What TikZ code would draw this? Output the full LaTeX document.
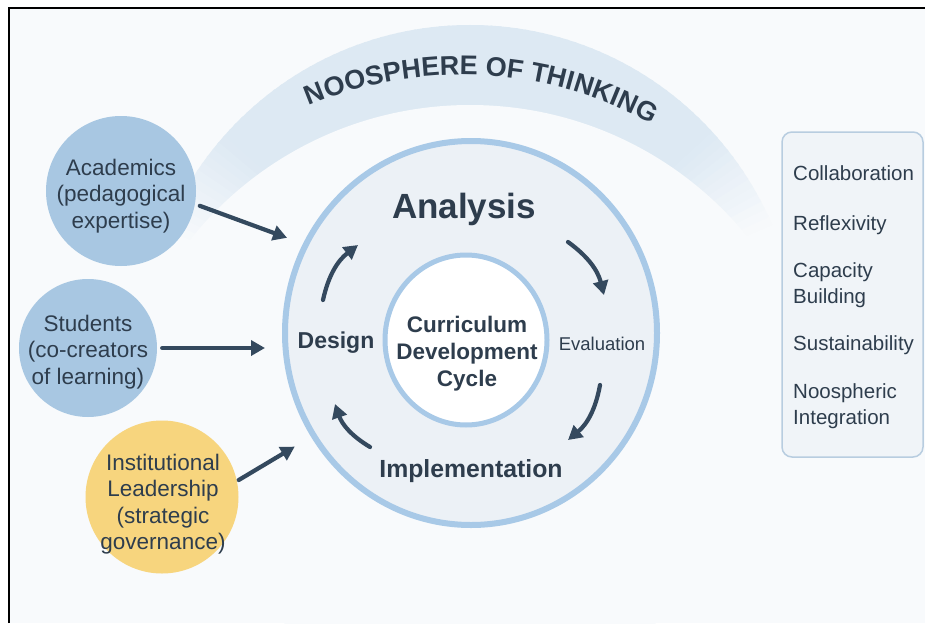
\documentclass[tikz,border=0pt]{standalone}
\usepackage{fontspec}
\setmainfont{Liberation Sans}
\usetikzlibrary{arrows.meta,decorations.text,shapes.geometric}

\definecolor{ink}{HTML}{2E3D4D}
\definecolor{arrowink}{HTML}{34495E}
\definecolor{ringblue}{HTML}{A8C9E7}
\definecolor{ringfill}{HTML}{ECF1F6}
\definecolor{stakeblue}{HTML}{A8C7E2}
\definecolor{stakegold}{HTML}{F7D57E}
\definecolor{bandblue}{HTML}{DDE9F3}
\definecolor{panelfill}{HTML}{F0F4F8}
\definecolor{panelline}{HTML}{B8CDE0}
\definecolor{canvas}{HTML}{F8FAFC}

\newcommand{\noosfont}{\fontsize{27}{27}\selectfont\bfseries}

\tikzset{
  ring/.style={ellipse, draw=ringblue, line width=6pt, inner sep=0pt},
  stake/.style={circle, inner sep=0pt},
  staketext/.style={align=center, text=ink, inner sep=0pt,
    font=\fontsize{22.5}{26.5}\selectfont},
  stage/.style={text=ink, inner sep=0pt, font=\fontsize{24.8}{28}\selectfont\bfseries},
  flow/.style={draw=arrowink, line width=4.2pt, line cap=round,
    -{Triangle[length=14pt,width=15pt]}},
  item/.style={anchor=west, align=left, text=ink, inner sep=0pt,
    font=\fontsize{20.5}{26}\selectfont},
}

\begin{document}
\begin{tikzpicture}[x=1pt,y=1pt]
\useasboundingbox (0,0) rectangle (925,-623);
\fill[white] (0,0) rectangle (925,-623);
\fill[canvas] (9,-8) rectangle (925,-623);

% noosphere band: crescent built from opaque wedges that fade into the canvas at both tips
\begin{scope}
  \clip (470,-353) circle[radius=328];
  \foreach \a in {14,15.5,...,166} {
    \pgfmathsetmacro\p{max(0,min(100,min((\a-22)*100/20,(158-\a)*100/20)))}
    \fill[bandblue!\p!canvas] (470,-353) -- +(\a:340) -- +(\a+1.9:340) -- cycle;
  }
  \fill[canvas] (470,-463) circle[radius=358];
\end{scope}
\draw[black, line width=1.2pt] (9,-623) -- (9,-8) -- (925,-8);

% curved title
\path[decorate, decoration={text along path, text align=center,
    text color=ink, text={|\noosfont|NOOSPHERE OF THINKING}}]
  (462,-470) ++(122:395) arc[start angle=122, end angle=52, radius=395];

% cycle rings
\node[ring, fill=ringfill, minimum width=372pt, minimum height=384pt] (cycle) at (471,-333) {};
\node[ring, line width=5pt, fill=white, minimum width=162pt, minimum height=170pt] (core) at (466,-340) {};
\node[text=ink, align=center, inner sep=0pt, font=\fontsize{22.5}{27}\selectfont\bfseries]
  (coretext) at (467,-354) {Curriculum\\Development\\Cycle};

% stages
\node[stage, font=\fontsize{35}{38}\selectfont\bfseries] (analysis) at (464,-209) {Analysis};
\node[stage, font=\fontsize{23}{26}\selectfont\bfseries] (design) at (336,-343) {Design};
\node[stage, font=\fontsize{18.5}{22}\selectfont] (evaluation) at (602,-344) {Evaluation};
\node[stage] (implementation) at (471,-471) {Implementation};

% cycle arrows
\coordinate (d1) at (323,-300); \coordinate (d2) at (358,-245);
\coordinate (e1) at (568,-242); \coordinate (e2) at (604,-295);
\coordinate (i1) at (600,-385); \coordinate (i2) at (568,-440);
\coordinate (m1) at (370,-447); \coordinate (m2) at (335,-404);
\draw[flow] (d1) to[bend left=20] (d2);
\draw[flow] (e1) to[bend left=20] (e2);
\draw[flow] (i1) to[bend left=20] (i2);
\draw[flow] (m1) to[bend left=20] (m2);

% stakeholders
\node[stake, fill=stakeblue, minimum size=150pt] (acad) at (121,-191) {};
\node[staketext] (acadtext) at (121,-196) {Academics\\(pedagogical\\expertise)};
\node[stake, fill=stakeblue, minimum size=138pt] (stud) at (88,-348) {};
\node[staketext] (studtext) at (88,-352) {Students\\(co-creators\\of learning)};
\node[stake, fill=stakegold, minimum size=153pt] (lead) at (162,-497) {};
\node[staketext] (leadtext) at (163,-504) {Institutional\\Leadership\\(strategic\\governance)};

\draw[flow, shorten <=5pt, shorten >=17pt] (acad.-10) -- (cycle.152);
\draw[flow, shorten <=5pt, shorten >=17pt] (stud.east) -- (stud.east -| cycle.west);
\draw[flow, shorten <=2pt, shorten >=19pt] (lead.12) -- (cycle.213);

% principles panel
\node[draw=panelline, line width=1.5pt, fill=panelfill, rounded corners=10pt,
  minimum width=141pt, minimum height=325pt] (panel) at (852.5,-294.5) {};
\node[item] (collab) at (793,-173) {Collaboration};
\node[item] (reflex) at (793,-225) {Reflexivity};
\node[item] (capacity) at (793,-285) {Capacity\\Building};
\node[item] (sustain) at (793,-345) {Sustainability};
\node[item] (noos) at (793,-406) {Noospheric\\Integration};
\end{tikzpicture}
\end{document}
